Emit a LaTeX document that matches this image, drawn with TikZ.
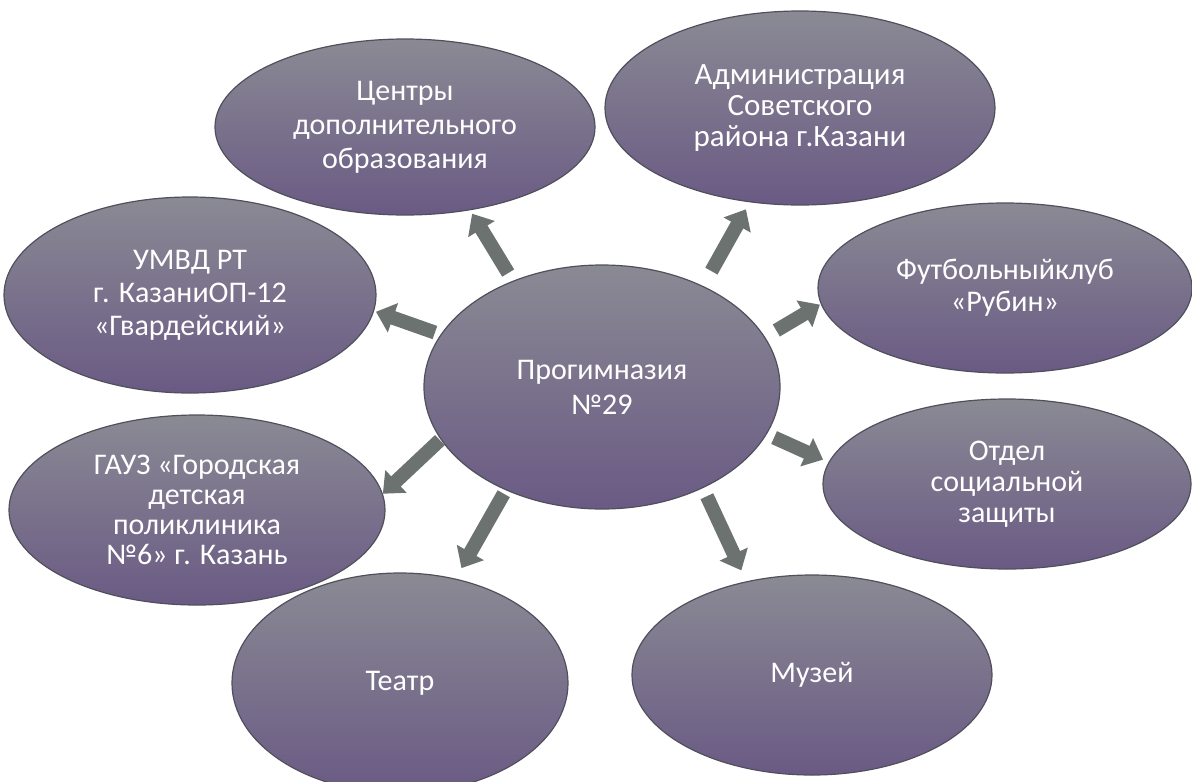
\documentclass[tikz,border=0pt]{standalone}
\usepackage{fontspec}
\setmainfont{Carlito}
\usetikzlibrary{arrows.meta,shapes.geometric}
\definecolor{ellTop}{RGB}{138,138,148}
\definecolor{ellMid}{RGB}{110,108,124}
\definecolor{ellBot}{RGB}{106,90,132}
\definecolor{rim}{RGB}{80,80,92}
\definecolor{arr}{RGB}{108,114,112}
\begin{document}
\begin{tikzpicture}[x=1pt,y=-1pt,
  ell/.style={ellipse, inner sep=0pt, draw=rim, line width=1.2pt,
    top color=ellTop, middle color=ellMid, bottom color=ellBot,
    text=white, align=center, font=\fontsize{30}{32}\selectfont},
  conn/.style={draw=arr, line width=14pt, -{Triangle[length=18pt,width=30pt]}}]
\path[fill=white] (0,0) rectangle (1192,782);
\useasboundingbox (0,0) rectangle (1192,782);

\node[ell, minimum width=356pt, minimum height=244pt, font=\fontsize{30}{35}\selectfont] (C) at (602,387) {Прогимназия\\№29};
\node[ell, minimum width=380pt, minimum height=176pt, font=\fontsize{30}{34}\selectfont] (n1) at (405,127) {Центры\\дополнительного\\образования};
\node[ell, minimum width=390pt, minimum height=194pt, font=\fontsize{31}{31}\selectfont] (n2) at (800,108) {Администрация\\Советского\\района г.Казани};
\node[ell, minimum width=372pt, minimum height=196pt, font=\fontsize{30}{33}\selectfont] (n3) at (190,295) {УМВД РТ\\г. КазаниОП-12\\«Гвардейский»};
\node[ell, minimum width=374pt, minimum height=170pt] (n4) at (1005,288) {Футбольныйклуб\\«Рубин»};
\node[ell, minimum width=368pt, minimum height=170pt, font=\fontsize{30}{31}\selectfont] (n5) at (1007,484) {Отдел\\социальной\\защиты};
\node[ell, minimum width=376pt, minimum height=190pt, font=\fontsize{30}{30}\selectfont] (n6) at (197,510) {ГАУЗ «Городская\\детская\\поликлиника\\№6» г. Казань};
\node[ell, minimum width=336pt, minimum height=220pt] (n7) at (400,683) {Театр};
\node[ell, minimum width=360pt, minimum height=200pt] (n8) at (812,675) {Музей};

\draw[conn, shorten <=9pt, shorten >=4pt] (C.130.9) -- (n1.-52.9);
\draw[conn, shorten <=17pt, shorten >=8pt] (C.45.8) -- (n2.242.3);
\draw[conn, shorten <=6pt, shorten >=2pt] (C.162.1) -- (n3.-5.6);
\draw[conn, shorten <=13pt, shorten >=1pt] (C.17.2) -- (n4.185.9);
\draw[conn, shorten <=8pt, shorten >=6pt] (C.-16.3) -- (n5.173.2);
\draw[conn, shorten <=1pt, shorten >=0pt] (C.198.1) -- (n6.5.5);
\draw[conn, shorten <=4pt, shorten >=12pt] (C.227.5) -- (n7.62.5);
\draw[conn, shorten <=9pt, shorten >=12pt] (C.-45.5) -- (n8.125);
\end{tikzpicture}
\end{document}
